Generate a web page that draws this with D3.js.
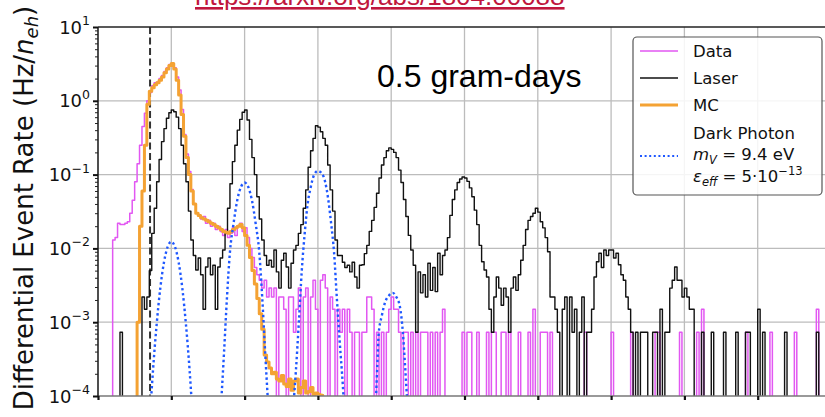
<!DOCTYPE html>
<html><head><meta charset="utf-8">
<script src="https://cdn.jsdelivr.net/npm/d3@7"></script>
<style>body{margin:0;background:#fff}svg{display:block}</style>
</head><body>
<svg id="c" width="825" height="417"></svg>
<script>
// ---------------- data ----------------
const binWidth = 1/30;            // histogram bin width (units of n_eh)
const laserStart = 0, dataStart = 0, mcStart = 16;   // first bin index
const laser = [
0,0,0,0,0,0,0,0,0,7.3e-4,
0,0,0,0,0,0,0,0,2.2e-3,1.5e-3,
2.2e-3,5e-3,0.016,0.035,0.08,0.16,0.28,0.42,0.58,0.69,
0.75,0.71,0.6,0.42,0.25,0.14,0.08,0.032,0.013,8e-3,
5.1e-3,7.4e-3,4.4e-3,1.5e-3,5.6e-3,7.4e-3,4.4e-3,5.9e-3,1.5e-3,5.6e-3,
7.4e-3,9.5e-3,0.016,0.035,0.075,0.15,0.25,0.4,0.56,0.7,
0.75,0.55,0.3,0.17,0.1,0.05,0.025,0.013,8e-3,5.9e-3,
6.9e-3,5.6e-3,9.5e-3,4.8e-3,2.9e-3,6.9e-3,8.6e-3,5.6e-3,2.9e-3,6.3e-3,
9.5e-3,0.011,0.016,0.021,0.035,0.062,0.126,0.21,0.31,0.46,
0.44,0.38,0.31,0.25,0.135,0.062,0.032,0.013,8e-3,8e-3,
6.5e-3,5.5e-3,5.9e-3,4.8e-3,6.5e-3,4.1e-3,2.9e-3,5.9e-3,6e-3,8.5e-3,
0.011,0.017,0.024,0.036,0.056,0.09,0.135,0.17,0.21,0.23,
0.22,0.2,0.17,0.115,0.078,0.046,0.027,0.015,9.5e-3,5.9e-3,
7.3e-4,4.8e-3,2.5e-3,4.4e-3,2.2e-3,6.3e-3,2.7e-3,5.5e-3,2.6e-3,8.6e-3,
4.4e-3,8e-3,9.5e-3,0.014,0.028,0.046,0.062,0.078,0.087,0.093,
0.09,0.081,0.066,0.05,0.033,0.021,0.011,6.6e-3,5.1e-3,4.1e-3,
1.5e-3,7.3e-4,2.2e-3,4.1e-3,2.9e-3,1.7e-3,2.9e-3,2.2e-3,7.3e-4,2.9e-3,
4.1e-3,2.7e-3,4.4e-3,6.9e-3,0.011,0.018,0.024,0.027,0.03,0.035,
0.031,0.023,0.019,0.014,9e-3,2.2e-3,2.2e-3,1.5e-3,7.3e-4,0,
1.5e-3,2.2e-3,0,2.2e-3,7.3e-4,1.5e-3,0,7.3e-4,2.2e-3,0,
7.3e-4,7.3e-4,1.5e-3,4.1e-3,6.6e-3,8.6e-3,5.5e-3,9.5e-3,8e-3,9.5e-3,
9.5e-3,7.4e-3,8.6e-3,6e-3,4.4e-3,3.7e-3,2.2e-3,1.5e-3,7.3e-4,0,
7.3e-4,0,7.3e-4,7.3e-4,7.3e-4,0,0,7.3e-4,7.3e-4,0,
1.5e-3,0,7.3e-4,7.3e-4,2.9e-3,3.7e-3,5.6e-3,3.7e-3,3.7e-3,2.2e-3,
2.9e-3,2.2e-3,1.5e-3,1.5e-3,0,0,0,7.3e-4,0,0,
0,7.3e-4,0,0,0,0,7.3e-4,0,0,0,
0,7.3e-4,0,0,0,7.3e-4,7.3e-4,0,0,0,
1.5e-3,0,7.3e-4,0,0,0,0,0,0,0,
0,7.3e-4,0,0,0,0,0,0,0,0,
0,0,0,0,7.3e-4,0,0,0,0,0];
const data = [
0,0,0,0,0,0,0.013,0.014,0.022,0.021,
0.021,0.022,0.023,0.03,0.045,0.08,0.14,0.25,0.45,0.68,
1.0,1.3,1.6,1.75,1.8,2.0,2.2,2.5,2.8,3.1,
3.2,2.8,2.1,1.4,0.76,0.35,0.19,0.11,0.063,0.04,
0.03,0.028,0.025,0.027,0.022,0.024,0.02,0.022,0.018,0.02,
0.017,0.015,0.018,0.014,0.016,0.019,0.015,0.02,0.022,0.017,
0.019,0.014,0.01,7.5e-3,5.5e-3,4.4e-3,3.7e-3,2.9e-3,3.7e-3,2.2e-3,
2.9e-3,2.2e-3,2.9e-3,0,2.2e-3,2.2e-3,1.5e-3,0,2.2e-3,2.2e-3,
7.3e-4,1.5e-3,2.9e-3,0,2.2e-3,2.9e-3,0,2.2e-3,3.7e-3,1.5e-3,
0,3.7e-3,4.4e-3,2.9e-3,0,2.2e-3,1.5e-3,0,1.5e-3,7.3e-4,
1.5e-3,0,1.5e-3,7.3e-4,0,7.3e-4,7.3e-4,0,7.3e-4,7.3e-4,
2.2e-3,2.2e-3,1.5e-3,0,7.3e-4,0,7.3e-4,0,7.3e-4,1.5e-3,
2.2e-3,1.5e-3,1.5e-3,7.3e-4,0,7.3e-4,7.3e-4,0,7.3e-4,0,
7.3e-4,0,7.3e-4,7.3e-4,7.3e-4,0,7.3e-4,0,7.3e-4,0,
7.3e-4,1.5e-3,0,0,0,0,0,0,0,7.3e-4,
0,7.3e-4,7.3e-4,0,0,7.3e-4,0,0,0,7.3e-4,
0,7.3e-4,7.3e-4,0,0,7.3e-4,7.3e-4,0,7.3e-4,0,
0,0,7.3e-4,0,0,0,7.3e-4,0,1.5e-3,0,
0,7.3e-4,7.3e-4,7.3e-4,0,7.3e-4,0,0,0,0,
0,0,0,0,0,0,0,0,0,7.3e-4,
0,0,0,0,0,0,0,0,0,0,
7.3e-4,0,0,0,0,0,0,0,7.3e-4,0,
0,0,0,0,0,0,0,0,7.3e-4,7.3e-4,
0,0,0,0,0,0,0,0,7.3e-4,0,
0,0,0,0,0,7.3e-4,0,1.5e-3,0,0,
0,0,0,0,0,0,0,0,0,0,
0,0,0,0,0,7.3e-4,0,0,0,0,
0,0,0,0,0,7.3e-4,0,0,0,0,
0,0,0,0,0,7.3e-4,0,0,0,0,
0,0,0,0,1.5e-3,0,0,0,0,0];
const mc = [
1e-3,0.02,0.06,0.25,
0.9,1.35,1.5,1.65,1.75,1.9,2.1,2.4,2.7,3.0,
3.2,2.7,1.9,1.2,0.65,0.33,0.17,0.1,0.06,0.04,
0.03,0.028,0.026,0.025,0.024,0.023,0.022,0.021,0.02,0.019,
0.018,0.017,0.0165,0.016,0.017,0.018,0.019,0.02,0.021,0.019,
0.015,0.011,7.5e-3,5e-3,3.3e-3,2.1e-3,1.3e-3,8e-4,3.6e-4,2.9e-4,
2.4e-4,2e-4,2.1e-4,1.7e-4,1.6e-4,1.9e-4,1.45e-4,1.35e-4,1.7e-4,1.2e-4,
1.6e-4,1.7e-4,1.1e-4,1.3e-4,1.6e-4,1.1e-4,1.15e-4,1.3e-4,1.05e-4,1.1e-4,
1.05e-4,1.02e-4];
// dark photon signal (null separates the peaks)
const dpX = [0.72,0.75,0.8,0.85,0.9,0.95,1.0,1.05,1.1,1.15,1.2,1.25,1.28, null,
  1.68,1.72,1.76,1.8,1.85,1.9,1.95,2.0,2.05,2.1,2.15,2.2,2.24,2.28,2.32, null,
  2.66,2.7,2.74,2.78,2.82,2.86,2.9,2.95,3.0,3.05,3.1,3.14,3.18,3.22,3.26,3.3,3.34,3.36, null,
  3.79,3.81,3.83,3.87,3.92,3.97,4.02,4.07,4.12,4.16,4.19,4.22];
const dpY = [7.8e-5,2.2e-4,9.3e-4,2.9e-3,6.5e-3,0.0105,0.0123,0.0105,6.5e-3,2.9e-3,9.3e-4,2.2e-4,7.8e-5, null,
  7.9e-5,4e-4,2.2e-3,8.9e-3,0.022,0.045,0.068,0.078,0.068,0.045,0.022,8.9e-3,2.2e-3,4e-4,7.9e-5, null,
  6.3e-5,2.2e-4,1e-3,5e-3,0.016,0.04,0.066,0.1,0.112,0.105,0.079,0.047,0.022,8.9e-3,2e-3,5e-4,1.4e-4,6.3e-5, null,
  7.9e-5,2.5e-4,7.1e-4,1.2e-3,1.9e-3,2.3e-3,2.5e-3,2.2e-3,1.6e-3,7.1e-4,2.5e-4,7.9e-5];
const yExps = [1,0,-1,-2,-3,-4];
const xTicks = [0,1,2,3,4,5,6,7,8,9,10];
const thresholdX = 0.71;
const legendNames = ["Data","Laser","MC"];
const colors = {data:"#e257f2", laser:"#111111", mc:"#f4a233", dp:"#1f58ff"};

// ---------------- chart ----------------
const svg = d3.select("#c");
const x = d3.scaleLinear().domain([0,10]).range([98,831]);
const y = d3.scaleLog().domain([1e-4,10]).range([396,27]);
const FLOOR = 1e-7;
const X0 = x(0), X1 = x(10), Y0 = y(1e-4), Y1 = y(10);

svg.append("defs").append("clipPath").attr("id","pc")
  .append("rect").attr("x",X0).attr("y",Y1).attr("width",X1-X0).attr("height",Y0-Y1);

// grid
const grid = svg.append("g").attr("stroke","#bcbcbc").attr("stroke-width",1.3);
yExps.slice(1,-1).forEach(e=>grid.append("line").attr("x1",X0).attr("x2",X1).attr("y1",y(Math.pow(10,e))).attr("y2",y(Math.pow(10,e))));
xTicks.slice(1,-1).forEach(t=>grid.append("line").attr("y1",Y1).attr("y2",Y0).attr("x1",x(t)).attr("x2",x(t)));

const plot = svg.append("g").attr("clip-path","url(#pc)");
// threshold line
plot.append("line").attr("x1",x(thresholdX)).attr("x2",x(thresholdX)).attr("y1",Y1).attr("y2",Y0)
  .attr("stroke","#333").attr("stroke-width",2).attr("stroke-dasharray","7,3.5");

function stepPts(vals, start){
  const pts=[[start*binWidth, FLOOR]];
  vals.forEach((v,i)=>pts.push([(start+i)*binWidth, v>0?v:FLOOR]));
  const last = vals[vals.length-1];
  pts.push([(start+vals.length)*binWidth, last>0?last:FLOOR]);
  pts.push([(start+vals.length)*binWidth, FLOOR]);
  return pts;
}
const stepLine = d3.line().x(d=>x(d[0])).y(d=>y(d[1])).curve(d3.curveStepAfter);
plot.append("path").attr("d",stepLine(stepPts(data,dataStart))).attr("fill","none")
  .attr("stroke",colors.data).attr("stroke-width",1.5).attr("stroke-linejoin","round");
plot.append("path").attr("d",stepLine(stepPts(laser,laserStart))).attr("fill","none")
  .attr("stroke",colors.laser).attr("stroke-width",1.4).attr("stroke-linejoin","round");
plot.append("path").attr("d",stepLine(stepPts(mc,mcStart))).attr("fill","none")
  .attr("stroke",colors.mc).attr("stroke-width",3).attr("stroke-linejoin","round");
const dpPts = dpX.map((v,i)=>[v,dpY[i]]);
const dpLine = d3.line().defined(d=>d[0]!==null).x(d=>x(d[0])).y(d=>y(d[1])).curve(d3.curveMonotoneX);
plot.append("path").attr("d",dpLine(dpPts)).attr("fill","none")
  .attr("stroke",colors.dp).attr("stroke-width",2.4).attr("stroke-dasharray","2.4,2.8");

// spines
svg.append("line").attr("x1",X0).attr("x2",825).attr("y1",Y1).attr("y2",Y1).attr("stroke","#222").attr("stroke-width",1.6);
svg.append("line").attr("x1",X0).attr("x2",825).attr("y1",Y0).attr("y2",Y0).attr("stroke","#777").attr("stroke-width",1.5);
svg.append("line").attr("x1",X0).attr("x2",X0).attr("y1",Y1).attr("y2",Y0).attr("stroke","#222").attr("stroke-width",1.6);

// axes ticks
const minorVals=[];
yExps.slice(1).forEach(e=>{for(let k=2;k<10;k++) minorVals.push(k*Math.pow(10,e));});
const yMinor = d3.axisLeft(y).tickValues(minorVals).tickSize(3).tickFormat("");
const yMajor = d3.axisLeft(y).tickValues(yExps.map(e=>Math.pow(10,e))).tickSize(5).tickFormat("");
const gm = svg.append("g").attr("transform",`translate(${X0},0)`).call(yMinor);
const gM = svg.append("g").attr("transform",`translate(${X0},0)`).call(yMajor);
[gm,gM].forEach(g=>{g.select(".domain").remove();});
gm.selectAll("line").attr("stroke","#222").attr("stroke-width",1);
gM.selectAll("line").attr("stroke","#111").attr("stroke-width",2);
const xAx = d3.axisBottom(x).tickValues(xTicks).tickSize(4).tickFormat("");
const gx = svg.append("g").attr("transform",`translate(0,${Y0})`).call(xAx);
gx.select(".domain").remove();
gx.selectAll("line").attr("stroke","#111").attr("stroke-width",2.2);

// y tick labels
const lab = svg.append("g").attr("font-family","DejaVu Sans").attr("fill","#111");
yExps.forEach(e=>{
  const t = lab.append("text").attr("x",90).attr("y",y(Math.pow(10,e))+6.5).attr("text-anchor","end").attr("font-size",18);
  t.append("tspan").text("10");
  t.append("tspan").attr("font-size",12.5).attr("dy",-8.5).text(e<0?("\u2212"+(-e)):String(e));
});

// y axis title
const yt = svg.append("text").attr("transform","translate(33,208) rotate(-90)")
  .attr("text-anchor","middle").attr("font-family","DejaVu Sans").attr("font-size",26).attr("fill","#111");
yt.append("tspan").text("Differential Event Rate (Hz/");
yt.append("tspan").attr("font-style","italic").text("n");
yt.append("tspan").attr("font-style","italic").attr("font-size",18).attr("dy",5).text("eh");
yt.append("tspan").attr("dy",-5).text(")");

// annotation
svg.append("text").attr("x",377).attr("y",87).attr("font-family","Liberation Sans, Arial").attr("font-size",32)
  .attr("fill","#000").text("0.5 gram-days");
svg.append("text").attr("x",195).attr("y",5).attr("font-family","Liberation Sans, Arial").attr("font-size",26)
  .attr("fill","#c0173d").style("text-decoration","underline").text("https://arxiv.org/abs/1804.00088");

// legend
const lg = svg.append("g").attr("font-family","DejaVu Sans").attr("font-size",16.5).attr("fill","#111");
lg.append("rect").attr("x",633).attr("y",37).attr("width",189).attr("height",158).attr("rx",4)
  .attr("fill","#fff").attr("fill-opacity",0.85).attr("stroke","#555").attr("stroke-width",1.2);
const legY = [51,78,105];
const legC = [colors.data, colors.laser, colors.mc];
legendNames.forEach((n,i)=>{
  lg.append("line").attr("x1",640).attr("x2",678).attr("y1",legY[i]).attr("y2",legY[i])
    .attr("stroke",legC[i]).attr("stroke-width",i===2?3:1.6);
  lg.append("text").attr("x",693).attr("y",legY[i]+6).text(n);
});
lg.append("line").attr("x1",640).attr("x2",678).attr("y1",156).attr("y2",156)
  .attr("stroke",colors.dp).attr("stroke-width",2).attr("stroke-dasharray","2,2.6");
lg.append("text").attr("x",693).attr("y",139).text("Dark Photon");
const l2 = lg.append("text").attr("x",693).attr("y",160);
l2.append("tspan").attr("font-style","italic").text("m");
l2.append("tspan").attr("font-style","italic").attr("font-size",11.5).attr("dy",4).text("V");
l2.append("tspan").attr("dy",-4).text(" = 9.4 eV");
const l3 = lg.append("text").attr("x",693).attr("y",182);
l3.append("tspan").attr("font-style","italic").text("\u03b5");
l3.append("tspan").attr("font-style","italic").attr("font-size",11.5).attr("dy",4).text("eff");
l3.append("tspan").attr("dy",-4).text(" = 5\u00b710");
l3.append("tspan").attr("font-size",11.5).attr("dy",-7).text("\u221213");
</script>
</body></html>
